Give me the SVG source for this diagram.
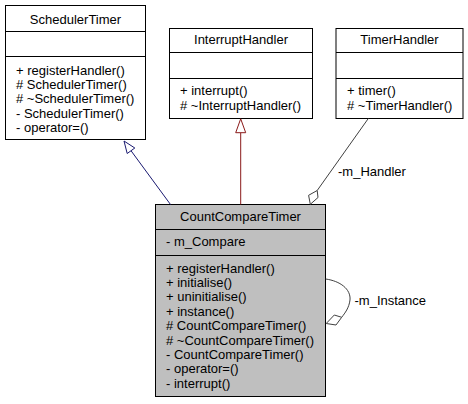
<svg xmlns="http://www.w3.org/2000/svg" width="468" height="404" viewBox="0 0 468 404">
<style>
text{font-family:"Liberation Sans",Arial,sans-serif;font-size:13px;fill:#000}
.t{text-anchor:middle}
.box{fill:#fff;stroke:#000;stroke-width:1}
.main{fill:#bfbfbf;stroke:#000;stroke-width:1}
.sep{stroke:#000;stroke-width:1}
.e{fill:none;stroke-width:1}
</style>
<rect width="468" height="404" fill="#fff"/>
<g id="SchedulerTimer">
<rect class="box" x="5.5" y="5.5" width="140" height="134"/>
<line class="sep" x1="5.5" y1="31.5" x2="145.5" y2="31.5"/>
<line class="sep" x1="5.5" y1="56.5" x2="145.5" y2="56.5"/>
<text class="t" x="75.5" y="23.5">SchedulerTimer</text>
<text x="16" y="74.5">+ registerHandler()</text>
<text x="16" y="88.9"># SchedulerTimer()</text>
<text x="16" y="103.3"># ~SchedulerTimer()</text>
<text x="16" y="117.7">- SchedulerTimer()</text>
<text x="16" y="132.1">- operator=()</text>
</g>
<g id="InterruptHandler">
<rect class="box" x="169.5" y="28.5" width="143" height="90"/>
<line class="sep" x1="169.5" y1="52.5" x2="312.5" y2="52.5"/>
<line class="sep" x1="169.5" y1="78.5" x2="312.5" y2="78.5"/>
<text class="t" x="241" y="44">InterruptHandler</text>
<text x="180" y="95.3">+ interrupt()</text>
<text x="180" y="109.7"># ~InterruptHandler()</text>
</g>
<g id="TimerHandler">
<rect class="box" x="336" y="28.5" width="127" height="90"/>
<line class="sep" x1="336" y1="52.5" x2="463" y2="52.5"/>
<line class="sep" x1="336" y1="78.5" x2="463" y2="78.5"/>
<text class="t" x="399.5" y="44">TimerHandler</text>
<text x="347" y="95.3">+ timer()</text>
<text x="347" y="109.7"># ~TimerHandler()</text>
</g>
<g id="CountCompareTimer">
<rect class="main" x="155.5" y="204.5" width="170" height="192"/>
<line class="sep" x1="155.5" y1="229.5" x2="325.5" y2="229.5"/>
<line class="sep" x1="155.5" y1="255.5" x2="325.5" y2="255.5"/>
<text class="t" x="240.5" y="221">CountCompareTimer</text>
<text x="166" y="246">- m_Compare</text>
<text x="166" y="272.6">+ registerHandler()</text>
<text x="166" y="287">+ initialise()</text>
<text x="166" y="301.4">+ uninitialise()</text>
<text x="166" y="315.8">+ instance()</text>
<text x="166" y="330.2"># CountCompareTimer()</text>
<text x="166" y="344.6"># ~CountCompareTimer()</text>
<text x="166" y="359">- CountCompareTimer()</text>
<text x="166" y="373.4">- operator=()</text>
<text x="166" y="387.8">- interrupt()</text>
</g>
<g id="connectors">
<path class="e" stroke="#191970" d="M170.5,204.5 L131,150.7"/>
<polygon points="124,141 134.8,148 127.2,153.5" fill="#fff" stroke="#191970"/>
<path class="e" stroke="#8b1a1a" d="M240.7,204.5 L240.7,132.7"/>
<polygon points="240.7,118.8 245.7,132.7 235.7,132.7" fill="#fff" stroke="#8b1a1a"/>
<path class="e" stroke="#404040" d="M368.3,118.5 L317.2,190.5"/>
<polygon points="317.2,190.5 318,197.5 310.3,204.3 308.6,195.3" fill="#fff" stroke="#404040"/>
<text x="338" y="176">-m_Handler</text>
<path class="e" stroke="#404040" d="M325.7,279 C340,281 351,289 350,300 C349,308 345,313 341.7,317.3"/>
<polygon points="341.7,317.3 336,325 326.2,323.5 334.3,315" fill="#fff" stroke="#404040"/>
<text x="354.5" y="305">-m_Instance</text>
</g>
</svg>
